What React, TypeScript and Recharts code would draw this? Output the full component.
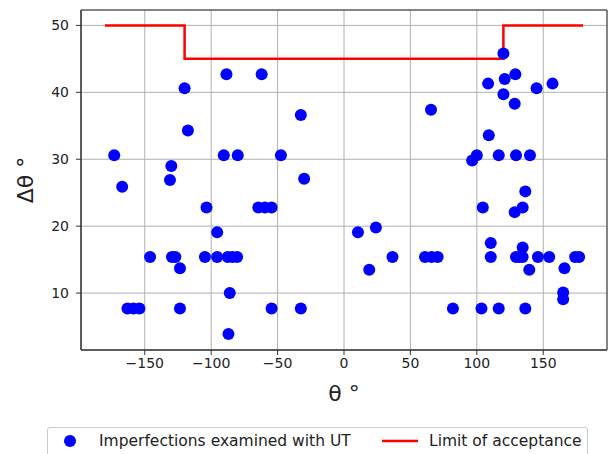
import React from 'react';
import {
  ScatterChart,
  Scatter,
  XAxis,
  YAxis,
  CartesianGrid,
  ReferenceArea,
  Legend,
  Label,
} from 'recharts';

// θ (deg) of each imperfection examined with UT
const thetaValues = [
  -173, -167, -120, -117.5, -130, -131, -88.5, -62, -90.5, -80, -47.5, -32.5, -30,
  -103.5, -64.5, -59.5, -54.5, -95.5, -146, -129.5, -127, -123.5, -104.7, -95.5,
  -87.5, -84, -80.5, -86, -163, -158.5, -154, -123.5, -87, -54.5, -32.5,
  120, 108.5, 121, 129, 145, 157, 120, 128.5, 65.5, 109, 96.5, 100, 116.5, 129.5,
  140, 136.5, 104.5, 128.5, 134.5, 10.5, 24, 19, 36.5, 61, 66, 70.5, 110.5, 110.5,
  129.5, 132, 134.5, 134.5, 139.5, 146, 154.5, 166, 165, 165, 174, 177, 82, 103.5,
  116.5, 136.5,
];

// Δθ (deg) of each imperfection, same order as thetaValues
const deltaThetaValues = [
  30.6, 25.9, 40.6, 34.3, 29.0, 26.9, 42.7, 42.7, 30.6, 30.6, 30.6, 36.6, 27.1,
  22.8, 22.8, 22.8, 22.8, 19.1, 15.4, 15.4, 15.4, 13.7, 15.4, 15.4,
  15.4, 15.4, 15.4, 10.0, 7.7, 7.7, 7.7, 7.7, 3.9, 7.7, 7.7,
  45.8, 41.3, 42.0, 42.7, 40.6, 41.3, 39.7, 38.3, 37.4, 33.6, 29.8, 30.6, 30.6, 30.6,
  30.6, 25.2, 22.8, 22.1, 22.8, 19.1, 19.8, 13.5, 15.4, 15.4, 15.4, 15.4, 17.5, 15.4,
  15.4, 15.4, 15.4, 16.8, 13.5, 15.4, 15.4, 13.7, 10.1, 9.1, 15.4, 15.4, 7.7, 7.7,
  7.7, 7.7,
];

// limit of acceptance (step line)
const limitTheta = [-180, -120, -120, 120, 120, 180];
const limitDelta = [50, 50, 45, 45, 50, 50];

const xTicks = [-150, -100, -50, 0, 50, 100, 150];
const yTicks = [10, 20, 30, 40, 50];
const xDomain: [number, number] = [-198, 198];
const yDomain: [number, number] = [1.5, 52.3];

const points = thetaValues.map((t, i) => ({ theta: t, delta: deltaThetaValues[i] }));
const limit = limitTheta.map((t, i) => ({ theta: t, delta: limitDelta[i] }));

const FONT = '"DejaVu Sans", sans-serif';
const minus = (v: number) => String(v).replace('-', '\u2212');

const Dot = (props: any) => <circle cx={props.cx} cy={props.cy} r={6} fill="#0000ff" />;

const LegendBox = () => (
  <div
    style={{
      width: 541,
      height: 32,
      boxSizing: 'border-box',
      border: '1px solid #cccccc',
      borderRadius: 3,
      background: '#fff',
      position: 'relative',
    }}
  >
    <svg width={541} height={32} style={{ position: 'absolute', left: 0, top: 0 }}>
      <circle cx={22} cy={13} r={6} fill="#0000ff" />
      <text x={51} y={18} fontFamily={FONT} fontSize={15.5} fill="#222">
        Imperfections examined with UT
      </text>
      <line x1={334} x2={370} y1={13} y2={13} stroke="#ff0000" strokeWidth={2.5} />
      <text x={381} y={18} fontFamily={FONT} fontSize={15.5} fill="#222">
        Limit of acceptance
      </text>
    </svg>
  </div>
);

export default function App() {
  return (
    <div style={{ position: 'absolute', left: 0, top: 0, width: 610, height: 454, background: '#fff' }}>
      <ScatterChart width={610} height={454} margin={{ top: 10, right: 3, bottom: 0, left: 0 }}>
        <CartesianGrid stroke="#b0b0b0" strokeWidth={1} />
        <XAxis
          type="number"
          dataKey="theta"
          domain={xDomain}
          ticks={xTicks}
          allowDataOverflow
          height={72}
          tickSize={5}
          tickMargin={3}
          tickFormatter={minus}
          stroke="#333"
          tick={{ fill: '#222', fontSize: 14, fontFamily: FONT }}
        >
          <Label
            content={(p: any) => {
              const vb = p.viewBox;
              return (
                <text
                  x={vb.x + vb.width / 2}
                  y={vb.y + 51}
                  textAnchor="middle"
                  fontFamily={FONT}
                  fontSize={22}
                  fill="#222"
                >
                  θ °
                </text>
              );
            }}
          />
        </XAxis>
        <YAxis
          type="number"
          dataKey="delta"
          domain={yDomain}
          ticks={yTicks}
          allowDataOverflow
          width={81}
          tickSize={5}
          tickMargin={7}
          stroke="#333"
          tick={{ fill: '#222', fontSize: 14, fontFamily: FONT }}
        >
          <Label
            content={(p: any) => {
              const vb = p.viewBox;
              const cy = vb.y + vb.height / 2;
              return (
                <text
                  x={33}
                  y={cy}
                  transform={`rotate(-90, 33, ${cy})`}
                  textAnchor="middle"
                  fontFamily={FONT}
                  fontSize={22}
                  fill="#222"
                >
                  Δθ °
                </text>
              );
            }}
          />
        </YAxis>
        <ReferenceArea
          x1={xDomain[0]}
          x2={xDomain[1]}
          y1={yDomain[0]}
          y2={yDomain[1]}
          fill="none"
          stroke="#333"
          strokeWidth={1}
          ifOverflow="visible"
        />
        <Scatter
          name="Limit of acceptance"
          data={limit}
          line={{ stroke: '#ff0000', strokeWidth: 2.5 }}
          lineType="joint"
          shape={() => <g />}
          isAnimationActive={false}
        />
        <Scatter
          name="Imperfections examined with UT"
          data={points}
          fill="#0000ff"
          shape={Dot}
          isAnimationActive={false}
        />
        <Legend
          verticalAlign="bottom"
          content={() => <LegendBox />}
          wrapperStyle={{ left: 47, width: 541, bottom: -5 }}
        />
      </ScatterChart>
    </div>
  );
}
